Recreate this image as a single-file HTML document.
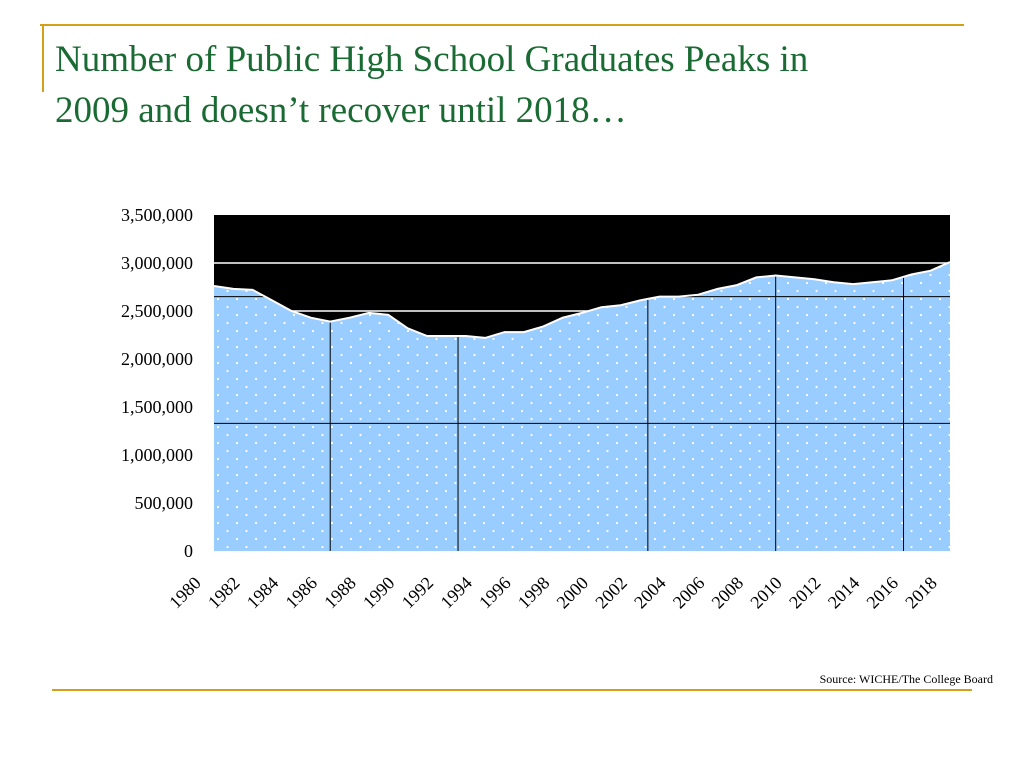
<!DOCTYPE html>
<html><head><meta charset="utf-8">
<style>
body{margin:0;background:#fff;width:1024px;height:768px;overflow:hidden;position:relative;font-family:"Liberation Serif",serif}
.title{position:absolute;left:55px;top:34px;font-size:37px;line-height:51px;color:#1a6b33;margin:0;font-weight:normal}
.src{position:absolute;right:31px;top:672px;font-size:12px;color:#000}
</style></head><body>
<div style="position:absolute;left:40px;top:24px;width:924px;height:2px;background:#d4a017"></div>
<div style="position:absolute;left:42px;top:24px;width:2px;height:68px;background:#d4a017"></div>
<div style="position:absolute;left:52px;top:689px;width:920px;height:2px;background:#d4a017"></div>
<h1 class="title">Number of Public High School Graduates Peaks in<br>2009 and doesn’t recover until 2018…</h1>
<div class="src">Source: WICHE/The College Board</div>
<svg id="chart" width="1024" height="768" style="position:absolute;left:0;top:0">
<defs>
<pattern id="dots" x="214" y="215" width="19" height="16" patternUnits="userSpaceOnUse">
<rect width="19" height="16" fill="#99ccff"/>
<circle cx="4" cy="4" r="1.1" fill="#fff"/><circle cx="13.5" cy="12" r="1.1" fill="#fff"/>
</pattern>
<clipPath id="areaClip"><path id="clipPath"/></clipPath>
</defs>
<g id="g"></g>
</svg>
<script>
const years=[];for(let y=1980;y<=2018;y++)years.push(y);
const values=[2.76,2.73,2.72,2.61,2.50,2.43,2.39,2.43,2.48,2.46,2.32,2.24,2.24,2.24,2.22,2.28,2.28,2.34,2.43,2.48,2.54,2.56,2.61,2.65,2.65,2.67,2.73,2.77,2.85,2.87,2.85,2.83,2.80,2.78,2.80,2.82,2.88,2.92,3.01];
const yTicks=[0,0.5,1,1.5,2,2.5,3,3.5];
const yTickLabels=["0","500,000","1,000,000","1,500,000","2,000,000","2,500,000","3,000,000","3,500,000"];
const xLabels=[1980,1982,1984,1986,1988,1990,1992,1994,1996,1998,2000,2002,2004,2006,2008,2010,2012,2014,2016,2018];
const L=214,R=950,T=215,B=551;
const xs=y=>L+(y-1980)*(R-L)/38;
const ys=v=>B-v*(B-T)/3.5;
const NS="http://www.w3.org/2000/svg";
const g=document.getElementById('g');
function mk(t,a){const e=document.createElementNS(NS,t);for(const k in a)e.setAttribute(k,a[k]);g.appendChild(e);return e;}
const bg=mk('rect',{x:L,y:T,width:R-L,height:B-T,fill:'#000'});


[3,2.5].forEach(v=>{const l=mk('line',{x1:L,x2:R,y1:ys(v),y2:ys(v),stroke:'#fff','stroke-width':1.5});

});
let d='M'+xs(years[0])+','+B;
years.forEach((y,i)=>d+=' L'+xs(y).toFixed(1)+','+ys(values[i]).toFixed(1));
d+=' L'+xs(years[years.length-1])+','+B+' Z';
document.getElementById('clipPath').setAttribute('d',d);
const area=mk('path',{d:d,fill:'url(#dots)'});


const cg=document.createElementNS(NS,'g');cg.setAttribute('clip-path','url(#areaClip)');g.appendChild(cg);
[2.65,1.33].forEach(v=>{const l=document.createElementNS(NS,'line');
l.setAttribute('x1',L);l.setAttribute('x2',R);l.setAttribute('y1',ys(v));l.setAttribute('y2',ys(v));l.setAttribute('stroke','#000');


cg.appendChild(l);});
[1986,1992.6,2002.4,2009,2015.6].forEach(yr=>{const l=document.createElementNS(NS,'line');
l.setAttribute('x1',xs(yr));l.setAttribute('x2',xs(yr));l.setAttribute('y1',T);l.setAttribute('y2',B);l.setAttribute('stroke','#000');


cg.appendChild(l);});
let ld='';years.forEach((y,i)=>ld+=(i?' L':'M')+xs(y).toFixed(1)+','+ys(values[i]).toFixed(1));
const line=mk('path',{d:ld,fill:'none',stroke:'#fff','stroke-width':2});


yTicks.forEach((v,i)=>{const t=mk('text',{x:193,y:ys(v)+6,'text-anchor':'end','font-size':18,'font-family':'Liberation Serif, serif',fill:'#000'});t.textContent=yTickLabels[i];

});
xLabels.forEach(y=>{const x=xs(y)-12,yy=584;const t=mk('text',{x:x,y:yy,'text-anchor':'end','font-size':18,'font-family':'Liberation Serif, serif',fill:'#000',transform:'rotate(-45 '+x+' '+yy+')'});t.textContent=y;

});
</script>
</body></html>
